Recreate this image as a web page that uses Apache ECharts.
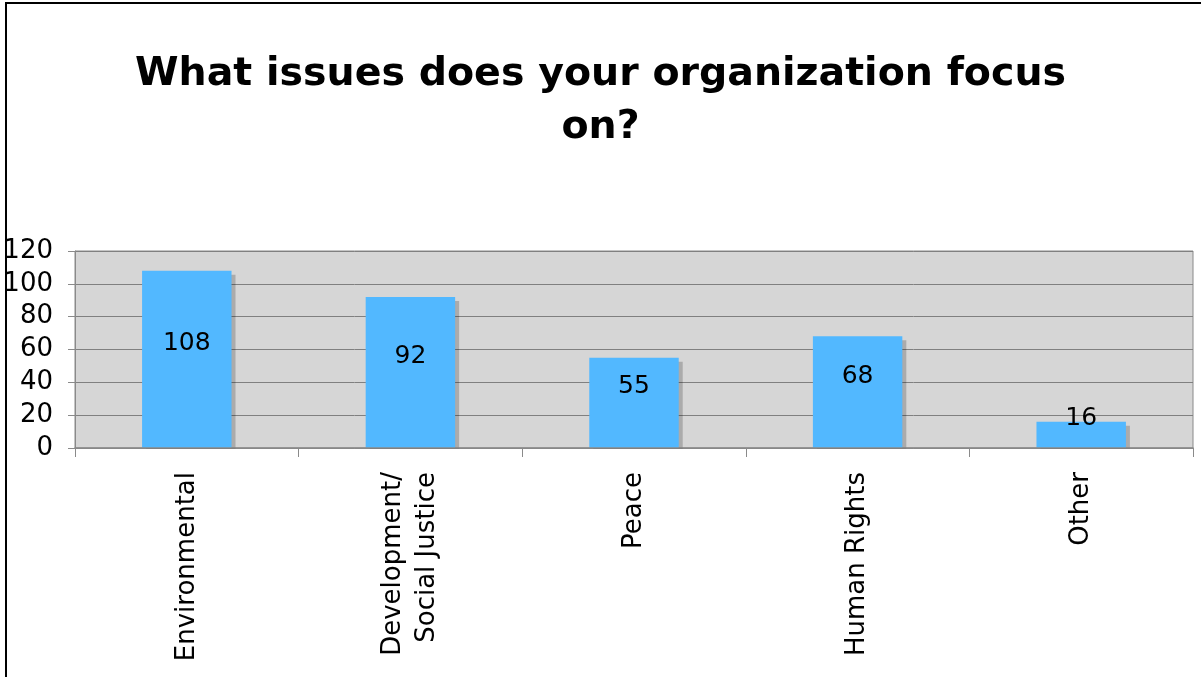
<!DOCTYPE html>
<html>
<head>
<meta charset="utf-8">
<script src="https://cdn.jsdelivr.net/npm/echarts@6/dist/echarts.min.js"></script>
<style>
html,body{margin:0;padding:0;background:#fff;}
#chart{width:1201px;height:677px;}
</style>
</head>
<body>
<div id="chart"></div>
<script>
const titleText = 'What issues does your organization focus\non?';
const categories = ['Environmental', 'Development/\nSocial Justice', 'Peace', 'Human Rights', 'Other'];
const values = [108, 92, 55, 68, 16];
const yTicks = { min: 0, max: 120, interval: 20 };

const chart = echarts.init(document.getElementById('chart'), null, { renderer: 'canvas' });
const fontFamily = '"DejaVu Sans", Verdana, sans-serif';

chart.setOption({
  animation: false,
  backgroundColor: '#ffffff',
  title: {
    text: titleText,
    left: 'center',
    top: 43,
    textStyle: {
      fontFamily: fontFamily,
      fontWeight: 'bold',
      fontSize: 39.5,
      lineHeight: 53,
      color: '#000'
    }
  },
  graphic: [
    {
      type: 'polyline',
      shape: { points: [[6, 677], [6, 3], [1201, 3]] },
      style: { stroke: '#000', lineWidth: 2, fill: null },
      z: 100
    },
    {
      type: 'rect',
      shape: { x: 70, y: 449, width: 1131, height: 10 },
      style: { fill: '#ffffff' },
      z: 3
    }
  ],
  grid: {
    left: 75,
    right: 8,
    top: 251,
    bottom: 229,
    show: true,
    backgroundColor: '#d6d6d6',
    borderColor: '#8a8a8a',
    borderWidth: 1
  },
  xAxis: {
    type: 'category',
    data: categories,
    z: 10,
    axisLine: { show: true, lineStyle: { color: '#8a8a8a', width: 1.5 } },
    axisTick: { show: true, length: 9, alignWithLabel: false, lineStyle: { color: '#8a8a8a' } },
    axisLabel: {
      rotate: 90,
      margin: 24,
      fontFamily: fontFamily,
      fontSize: 26,
      color: '#000',
      lineHeight: 34,
      interval: 0
    },
    splitLine: { show: false }
  },
  yAxis: {
    type: 'value',
    min: yTicks.min,
    max: yTicks.max,
    interval: yTicks.interval,
    axisLine: { show: true, lineStyle: { color: '#8a8a8a' } },
    axisTick: { show: true, length: 7, lineStyle: { color: '#8a8a8a' } },
    axisLabel: {
      margin: 22,
      fontFamily: fontFamily,
      fontSize: 26,
      color: '#000'
    },
    splitLine: { show: true, lineStyle: { color: '#808080', width: 1 } }
  },
  series: [
    {
      type: 'bar',
      data: values,
      barWidth: '40%',
      itemStyle: {
        color: '#52b8ff',
        shadowColor: 'rgba(0,0,0,0.2)',
        shadowBlur: 0,
        shadowOffsetX: 4,
        shadowOffsetY: 4
      },
      label: {
        show: true,
        position: 'inside',
        offset: [0, -16],
        fontFamily: fontFamily,
        fontSize: 25,
        color: '#000'
      }
    }
  ]
});
</script>
</body>
</html>
